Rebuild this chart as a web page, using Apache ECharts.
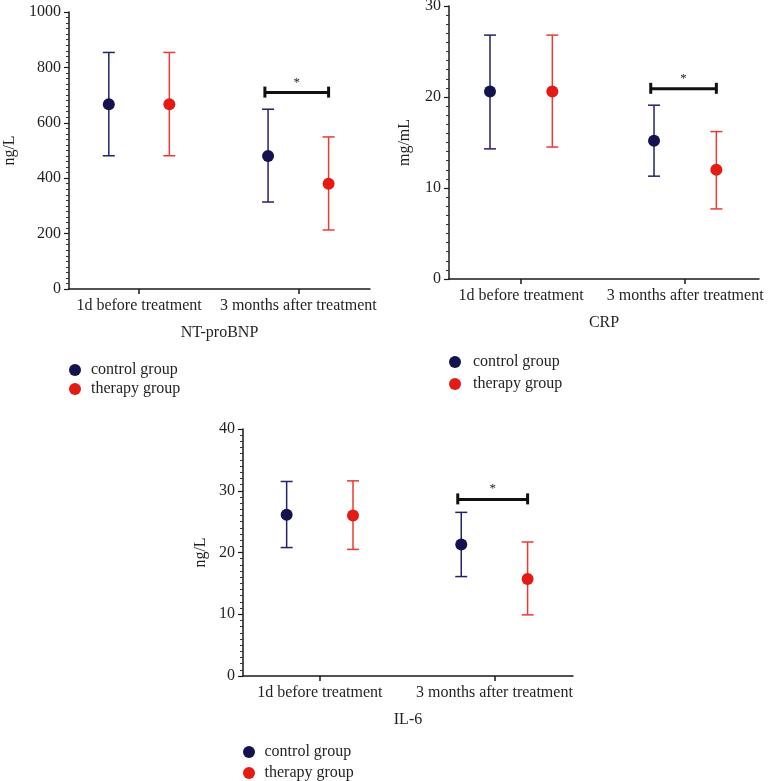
<!DOCTYPE html>
<html>
<head>
<meta charset="utf-8">
<script src="https://cdn.jsdelivr.net/npm/echarts@6/dist/echarts.min.js"></script>
<style>
html,body{margin:0;padding:0;background:#fff;}
#main{width:769px;height:781px;}
</style>
</head>
<body>
<div id="main"></div>
<script>
var categories = ['1d before treatment', '3 months after treatment'];
var groups = ['control group', 'therapy group'];

// NT-proBNP (ng/L)
var ntControlMean = [667, 480];
var ntControlLow = [481, 314];
var ntControlHigh = [854, 649];
var ntTherapyMean = [667, 380];
var ntTherapyLow = [481, 213];
var ntTherapyHigh = [854, 549];
var ntSig = 709;

// CRP (mg/mL)
var crpControlMean = [20.6, 15.2];
var crpControlLow = [14.3, 11.3];
var crpControlHigh = [26.8, 19.1];
var crpTherapyMean = [20.6, 12.0];
var crpTherapyLow = [14.5, 7.7];
var crpTherapyHigh = [26.8, 16.2];
var crpSig = 20.9;

// IL-6 (ng/L)
var ilControlMean = [26.1, 21.3];
var ilControlLow = [20.8, 16.1];
var ilControlHigh = [31.5, 26.5];
var ilTherapyMean = [26.0, 15.7];
var ilTherapyLow = [20.5, 9.9];
var ilTherapyHigh = [31.6, 21.7];
var ilSig = 28.6;

var yTicks = [[0, 1000, 200], [0, 30, 10], [0, 40, 10]];

var FONT = 'Liberation Serif';
var TXT = '#231f20';
var NAVY = '#14124f', NAVY_BAR = '#24226a';
var RED = '#e31b14', RED_BAR = '#eb3a33';
var OFF = 0.19;

var chart = echarts.init(document.getElementById('main'));

function renderErr(params, api) {
    var x = api.value(0);
    var top = api.coord([x, api.value(2)]);
    var bot = api.coord([x, api.value(1)]);
    var c = api.visual('color');
    var st = {stroke: c, lineWidth: 1.5};
    return {type: 'group', children: [
        {type: 'line', shape: {x1: top[0], y1: top[1], x2: bot[0], y2: bot[1]}, style: st},
        {type: 'line', shape: {x1: top[0] - 6, y1: top[1], x2: top[0] + 6, y2: top[1]}, style: st},
        {type: 'line', shape: {x1: bot[0] - 6, y1: bot[1], x2: bot[0] + 6, y2: bot[1]}, style: st}
    ]};
}

function renderSig(params, api) {
    var a = api.coord([api.value(0), api.value(2)]);
    var b = api.coord([api.value(1), api.value(2)]);
    var st = {stroke: '#111', lineWidth: 3};
    return {type: 'group', children: [
        {type: 'line', shape: {x1: a[0], y1: a[1], x2: b[0], y2: b[1]}, style: st},
        {type: 'line', shape: {x1: a[0], y1: a[1] - 6, x2: a[0], y2: a[1] + 5}, style: st},
        {type: 'line', shape: {x1: b[0], y1: b[1] - 6, x2: b[0], y2: b[1] + 5}, style: st},
        {type: 'text', style: {x: (a[0] + b[0]) / 2, y: a[1] - 4, text: '*', fill: '#222',
            font: '13px ' + FONT, align: 'center', verticalAlign: 'bottom'}}
    ]};
}

function errData(sign, lo, hi) {
    return categories.map(function (c, i) { return [i + 1 + sign * OFF, lo[i], hi[i]]; });
}
function meanData(sign, m) {
    return categories.map(function (c, i) { return [i + 1 + sign * OFF, m[i]]; });
}

var panels = [
    {cm: ntControlMean, cl: ntControlLow, ch: ntControlHigh, tm: ntTherapyMean, tl: ntTherapyLow, th: ntTherapyHigh, sig: ntSig},
    {cm: crpControlMean, cl: crpControlLow, ch: crpControlHigh, tm: crpTherapyMean, tl: crpTherapyLow, th: crpTherapyHigh, sig: crpSig},
    {cm: ilControlMean, cl: ilControlLow, ch: ilControlHigh, tm: ilTherapyMean, tl: ilTherapyLow, th: ilTherapyHigh, sig: ilSig}
];
var xNames = ['NT-proBNP', 'CRP', 'IL-6'];
var yNames = ['ng/L', 'mg/mL', 'ng/L'];
var yNameGaps = [51, 36, 34];

var grids = [
    {left: 69, top: 12, width: 301, height: 277},
    {left: 449, top: 6, width: 310, height: 273},
    {left: 243, top: 429, width: 330, height: 247}
].map(function (g) { g.containLabel = false; g.outerBoundsMode = 'none'; return g; });

var axisLine = {show: true, lineStyle: {color: '#1a1a1a', width: 1.5}};
var xAxes = [], yAxes = [], series = [];
panels.forEach(function (p, k) {
    xAxes.push({
        type: 'value', gridIndex: k, min: 0.56, max: 2.45,
        name: xNames[k], nameLocation: 'middle', nameGap: 36,
        nameTextStyle: {fontFamily: FONT, fontSize: 16, color: TXT},
        axisLine: axisLine,
        axisTick: {show: true, length: 5, customValues: [1, 2], lineStyle: {color: '#1a1a1a', width: 1.5}},
        axisLabel: {customValues: [1, 2], margin: 9, fontFamily: FONT, fontSize: 16, color: TXT,
            formatter: function (v) { return categories[Math.round(v) - 1] || ''; }},
        splitLine: {show: false}
    });
    yAxes.push({
        type: 'value', gridIndex: k, min: yTicks[k][0], max: yTicks[k][1], interval: yTicks[k][2],
        name: yNames[k], nameLocation: 'middle', nameRotate: 90, nameGap: yNameGaps[k],
        nameTextStyle: {fontFamily: FONT, fontSize: 16, color: TXT},
        axisLine: axisLine,
        axisTick: {show: true, length: 5, lineStyle: {color: '#1a1a1a', width: 1.2}},
        minorTick: {show: true, splitNumber: 10, length: 3, lineStyle: {color: '#333', width: 1}},
        axisLabel: {margin: 8, fontFamily: FONT, fontSize: 16, color: TXT,
            formatter: function (v) { return String(v); }},
        splitLine: {show: false}
    });
    series.push(
        {type: 'custom', name: 'control err', xAxisIndex: k, yAxisIndex: k, renderItem: renderErr,
            itemStyle: {color: NAVY_BAR}, data: errData(-1, p.cl, p.ch), z: 2},
        {type: 'custom', name: 'therapy err', xAxisIndex: k, yAxisIndex: k, renderItem: renderErr,
            itemStyle: {color: RED_BAR}, data: errData(1, p.tl, p.th), z: 2},
        {type: 'scatter', name: groups[0], xAxisIndex: k, yAxisIndex: k, symbolSize: 12,
            itemStyle: {color: NAVY, opacity: 1}, data: meanData(-1, p.cm), z: 3},
        {type: 'scatter', name: groups[1], xAxisIndex: k, yAxisIndex: k, symbolSize: 12,
            itemStyle: {color: RED, opacity: 1}, data: meanData(1, p.tm), z: 3},
        {type: 'custom', name: 'sig', xAxisIndex: k, yAxisIndex: k, renderItem: renderSig,
            data: [[2 - OFF - 0.02, 2 + OFF, p.sig]], z: 4}
    );
});

function makeLegend(left, top, w, gap) {
    return {
        data: groups, orient: 'vertical', left: left, top: top, height: 60, icon: 'circle',
        itemWidth: w, itemHeight: 12, itemGap: gap, padding: 0, selectedMode: false,
        textStyle: {fontFamily: FONT, fontSize: 16, color: TXT}
    };
}

chart.setOption({
    animation: false,
    grid: grids,
    xAxis: xAxes,
    yAxis: yAxes,
    legend: [
        makeLegend(69, 362, 22, 3),
        makeLegend(449, 354, 26, 6),
        makeLegend(243, 744, 21, 5)
    ],
    series: series
});
</script>
</body>
</html>
